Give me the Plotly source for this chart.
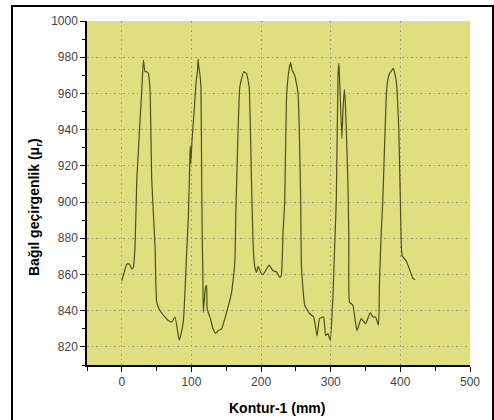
import plotly.graph_objects as go

kontur_mm = [0, 4.7, 7.2, 10.9, 14.3, 16.6, 19, 21.5, 28.7, 31, 33.4, 35.8, 38.1, 40.5, 43,
             47.7, 50.1, 54.9, 62, 66.8, 71.6, 76.4, 82.5, 88.3, 93.1, 95.4, 97.5, 98.2, 99,
             101, 104, 106.6, 108.5, 109.6, 110.5, 112, 113.6, 114.6, 115.5, 116.5, 117,
             119.3, 120.3, 121.7, 122.6, 127.2, 131, 134.6, 138.4, 143.3, 150.4, 157.6,
             162.3, 163.7, 165, 169.5, 175.2, 179, 182.8, 186.2, 188.6, 191, 193.4, 195.7,
             199.6, 203, 211.5, 217.2, 222, 226.8, 229, 231.5, 234, 236.4, 240, 242.5, 244.4,
             248.3, 253, 256.9, 257.9, 262.7, 269.8, 275.5, 280.3, 284, 289.8, 292.6, 296,
             299.4, 303, 305.5, 308, 310.5, 311.8, 313, 316, 317.5, 319.5, 321, 324.6, 326,
             327, 331.8, 337.6, 343.8, 350, 356.7, 360.6, 364.4, 368.6, 370, 372.5, 374.8,
             379.7, 381.9, 384.4, 388.2, 390, 393.9, 397.6, 400, 402.6, 408.3, 413, 417.8, 421]

bagil_gecirgenlik = [856.6, 863, 865.8, 865.8, 863, 864, 875.8, 912, 962, 978.4, 972, 972, 971, 962, 912,
                     875.8, 844.7, 840, 836.5, 834.6, 833.7, 836.5, 823.6, 833.7, 872, 890.5, 920, 931, 921,
                     935, 951, 966, 972, 979, 975, 971, 963.7, 916, 880, 857.5, 839,
                     850, 853, 854, 841, 835.6, 830, 827.5, 829, 830, 839, 850,
                     866.7, 894, 912, 963.7, 972, 971, 963.7, 912, 875.8, 864, 861.2, 864.5,
                     861, 860, 865.2, 862, 861.5, 858.4, 859.3, 883, 901, 956.4, 973, 977, 973,
                     970, 960, 901, 864.8, 843, 838.3, 836.5, 826, 835.6, 836.5, 826.4, 827.3,
                     823.6, 846.5, 874, 901, 970, 976.6, 965, 935, 950, 962.3, 955, 912, 880,
                     844.7, 843, 829, 835.6, 832.8, 839, 836.5, 836.5, 832, 855.7, 883, 901,
                     958.2, 967.4, 971, 973, 973.8, 967.4, 941.8, 901, 870.3, 867.6, 863, 858, 857.1]

x_ticks = [0, 100, 200, 300, 400, 500]
y_ticks = [820, 840, 860, 880, 900, 920, 940, 960, 980, 1000]

FONT = "Liberation Sans, Arial, sans-serif"

fig = go.Figure()
fig.add_trace(go.Scatter(x=kontur_mm, y=bagil_gecirgenlik, mode="lines",
                         line=dict(color="#4f4f1c", width=1.2, shape="spline", smoothing=0.4),
                         showlegend=False, hoverinfo="skip"))

fig.update_layout(
    width=494, height=420,
    margin=dict(l=87, r=24, t=21, b=55),
    paper_bgcolor="white",
    plot_bgcolor="#dfdf80",
    font=dict(family=FONT, size=12, color="#444444"),
    xaxis=dict(range=[-50, 500], tickvals=x_ticks, ticks="outside", ticklen=5,
               tickcolor="black", showline=True, linecolor="black", linewidth=2,
               showgrid=True, gridcolor="#9c9c84", griddash="1.5px,3px", gridwidth=1,
               zeroline=False, minor=dict(dtick=50, ticks="outside", ticklen=4,
                                          tickcolor="black", showgrid=False),
               tickfont=dict(size=12, color="#444444")),
    yaxis=dict(range=[810, 1000], tickvals=y_ticks, ticks="outside", ticklen=5,
               tickcolor="black", showline=True, linecolor="black", linewidth=1.5,
               showgrid=True, gridcolor="#9c9c84", griddash="1.5px,3px", gridwidth=1,
               zeroline=False, minor=dict(dtick=10, ticks="outside", ticklen=3,
                                          tickcolor="black", showgrid=False),
               tickfont=dict(size=12, color="#444444")),
    annotations=[
        dict(text="Kontur-1 (mm)", xref="paper", yref="paper",
             x=(277 - 87) / 383, y=(365 - 408) / 344, xanchor="center", yanchor="middle",
             showarrow=False, font=dict(family=FONT, size=14, color="black", weight="bold")),
        dict(text="Bağıl geçirgenlik (μ<sub>r</sub>)", xref="paper", yref="paper",
             x=(35 - 87) / 383, y=(365 - 207) / 344, xanchor="center", yanchor="middle",
             textangle=-90, showarrow=False,
             font=dict(family=FONT, size=14, color="black", weight="bold")),
    ],
    shapes=[
        dict(type="rect", xref="paper", yref="paper",
             x0=(12 - 87) / 383, x1=(493 - 87) / 383,
             y0=(365 - 423) / 344, y1=(365 - 6) / 344,
             line=dict(color="black", width=2), fillcolor="rgba(0,0,0,0)", layer="below"),
    ],
)

fig.write_html("out.html", config={"displayModeBar": False},
               post_script="document.body.style.margin='0';document.body.style.padding='0';")
